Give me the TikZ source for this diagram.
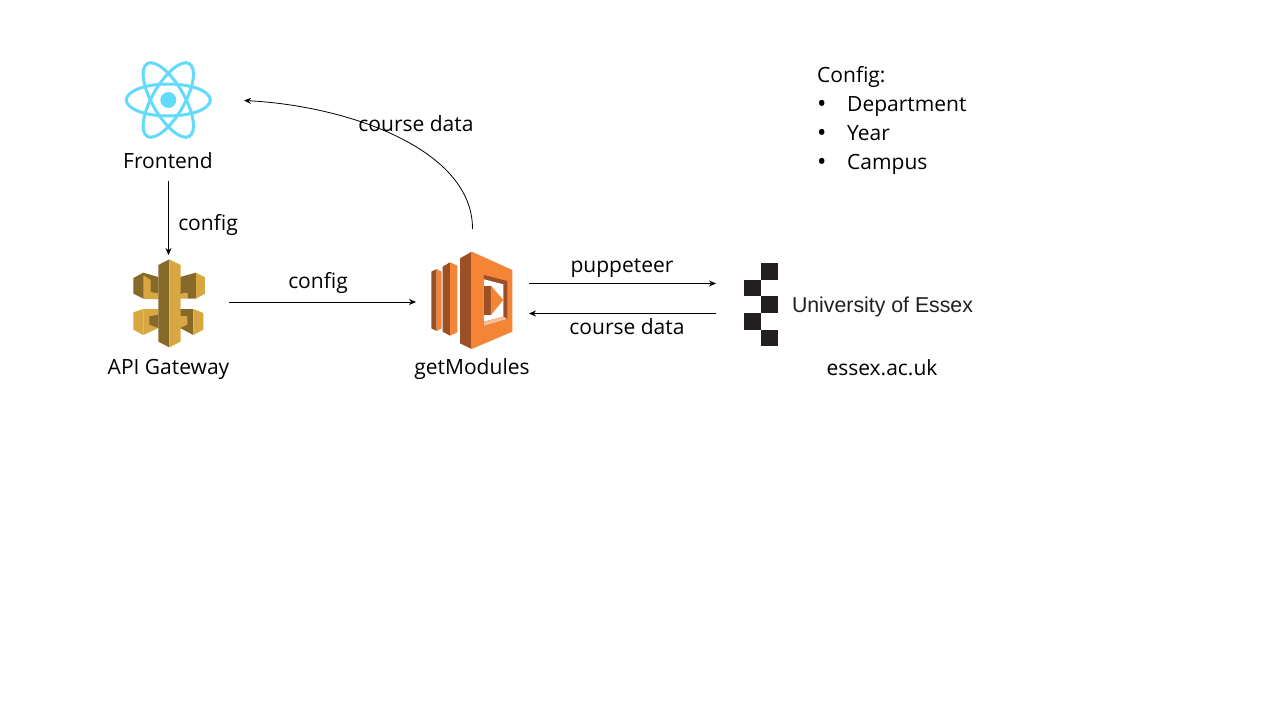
\documentclass[tikz,border=0pt]{standalone}
\usepackage{fontspec}
\setmainfont{Open Sans}
\newfontfamily\logofont{Liberation Sans}
\usetikzlibrary{arrows.meta}
\definecolor{reactc}{HTML}{61DAFB}
\definecolor{lamL}{HTML}{F58536}
\definecolor{lamD}{HTML}{9D5025}
\definecolor{apiL}{HTML}{D9A741}
\definecolor{apiD}{HTML}{876929}
\definecolor{logoc}{HTML}{231F20}
\tikzset{
  lbl/.style={inner sep=0pt,font=\fontsize{21}{25}\selectfont,text=black,text height=15.5pt,text depth=0pt},
  bul/.style={inner sep=0pt,font=\fontsize{25}{30}\selectfont,text=black},
  box/.style={inner sep=0pt,outer sep=0pt},
  conn/.style={draw=black,line width=0.8pt,-{Stealth[length=7pt,width=6pt]}},
  ring/.style={draw=reactc,line width=3pt,fill=none},
  sq/.style={fill=logoc,draw=none},
  third/.style={x=0.3333pt,y=-0.3333pt},
}
\begin{document}
\begin{tikzpicture}[x=1pt,y=-1pt]
\useasboundingbox (0,0) rectangle (1280,720);
\fill[white] (0,0) rectangle (1280,720);

% React logo
\node[box,minimum width=152pt,minimum height=90pt] (front) at (168,100.5) {};
\draw[ring] (168.3,100) ellipse [x radius=42,y radius=16];
\draw[ring,rotate around={60:(168.3,100)}] (168.3,100) ellipse [x radius=42,y radius=16];
\draw[ring,rotate around={120:(168.3,100)}] (168.3,100) ellipse [x radius=42,y radius=16];
\fill[reactc] (168.3,100) circle (8);
\node[box,minimum width=100pt,minimum height=40pt] (frontbox) at (168.5,161) {};
\node[lbl] (frontlabel) at (168,161) {Frontend};

% API Gateway logo
\node[box,minimum width=121pt,minimum height=94pt] (api) at (168.5,302) {};
\begin{scope}[shift={(130,268)},third]
  \fill[apiD] (10,30) -- (40,14) -- (85,27) -- (85,92) -- (40,92) -- (10,77) -- cycle;
  \fill[apiL] (40,22) -- (62,36) -- (62,72) -- (85,76) -- (85,94) -- (40,92) -- cycle;
\end{scope}
\begin{scope}[shift={(170,268)},third]
  \fill[apiL] (78,14) -- (105,28) -- (105,77) -- (78,92) -- cycle;
  \fill[apiD] (30,27) -- (78,14) -- (78,92) -- (52,92) -- (52,75) -- (30,78) -- cycle;
  \fill[apiL] (30,78) -- (52,75) -- (52,92) -- (30,92) -- cycle;
\end{scope}
\begin{scope}[shift={(130,303)},third]
  \fill[apiL] (10,28) -- (40,18) -- (40,96) -- (10,80) -- cycle;
  \fill[apiL] (40,18) -- (85,18) -- (85,75) -- (40,96) -- cycle;
  \fill[apiD] (58,40) -- (85,35) -- (85,75) -- (58,65) -- cycle;
  \fill[apiD] (150,18) -- (190,18) -- (190,96) -- (150,75) -- cycle;
  \fill[apiL] (150,38) -- (172,40) -- (172,65) -- (150,75) -- cycle;
  \fill[apiL] (190,18) -- (220,30) -- (220,80) -- (190,96) -- cycle;
\end{scope}
\begin{scope}[shift={(120,250)},third]
  \fill[apiD] (115,45) -- (148,28) -- (148,292) -- (115,275) -- cycle;
  \fill[apiL] (148,28) -- (182,45) -- (182,275) -- (148,292) -- cycle;
\end{scope}
\node[lbl] (apilabel) at (168.5,367) {API Gateway};

% Lambda logo
\node[box,minimum width=113pt,minimum height=146pt] (lambda) at (472.5,302) {};
\begin{scope}[shift={(420,245)},third]
  \fill[lamD] (34,80) -- (50,72) -- (50,258) -- (34,250) -- cycle;
  \fill[lamL] (50,72) -- (65,80) -- (65,250) -- (50,258) -- cycle;
  \fill[lamD] (68,65) -- (90,52) -- (90,272) -- (68,260) -- cycle;
  \fill[lamL] (90,52) -- (112,62) -- (112,262) -- (90,272) -- cycle;
  \fill[lamD] (120,40) -- (155,20) -- (155,312) -- (120,295) -- cycle;
  \fill[lamL] (155,20) -- (277,75) -- (277,260) -- (155,312) -- cycle;
  \fill[lamD] (192,90) -- (262,108) -- (262,222) -- (192,243) -- cycle;
  \fill[white] (192,103) -- (250,118) -- (250,215) -- (192,230) -- cycle;
  \fill[lamL!55!white] (192,230) -- (250,215) -- (262,222) -- (192,243) -- cycle;
  \fill[lamD] (192,122) -- (213,122) -- (213,210) -- (192,210) -- cycle;
  \fill[lamL] (213,122) -- (250,165) -- (213,210) -- cycle;
\end{scope}
\node[lbl] (lambdalabel) at (472,367) {getModules};

% Essex logo
\node[box,minimum width=262pt,minimum height=90pt,anchor=west] (essex) at (716,298.5) {};
\fill[sq] (761,263) rectangle (778,280);
\fill[sq] (744,280) rectangle (761,296);
\fill[sq] (761,296) rectangle (778,313);
\fill[sq] (744,313) rectangle (761,330);
\fill[sq] (761,330) rectangle (778,346);
\node[box,anchor=center,text=logoc,font=\logofont\fontsize{21.5}{26}\selectfont,xscale=0.99] (essextext) at (882.5,307) {University of Essex};
\node[lbl] (essexlabel) at (882,368) {essex.ac.uk};

% Connectors
\draw[conn] (frontbox.south) -- (api.north);
\draw[conn] (api.east) -- (lambda.west);
\draw[conn] ([yshift=18.5pt]lambda.east) -- ([yshift=15pt]essex.west);
\draw[conn] ([yshift=-15pt]essex.west) -- ([yshift=-11.5pt]lambda.east);
\draw[conn] (lambda.north) .. controls (473,150) and (350,106) .. (front.east);

% Edge labels
\node[lbl] (l1) at (208,223) {config};
\node[lbl] (l2) at (318,281) {config};
\node[lbl] (l3) at (622,265) {puppeteer};
\node[lbl] (l4) at (627,327) {course data};
\node[lbl] (l5) at (416,124) {course data};

% Config list
\node[lbl,anchor=west] (cfg) at (817,75) {Config:};
\node[bul,anchor=west] (b1) at (817,106.5) {•};
\node[lbl,anchor=west] (t1) at (847,104) {Department};
\node[bul,anchor=west] (b2) at (817,135.5) {•};
\node[lbl,anchor=west] (t2) at (847,133) {Year};
\node[bul,anchor=west] (b3) at (817,164.5) {•};
\node[lbl,anchor=west] (t3) at (847,162) {Campus};
\end{tikzpicture}
\end{document}
